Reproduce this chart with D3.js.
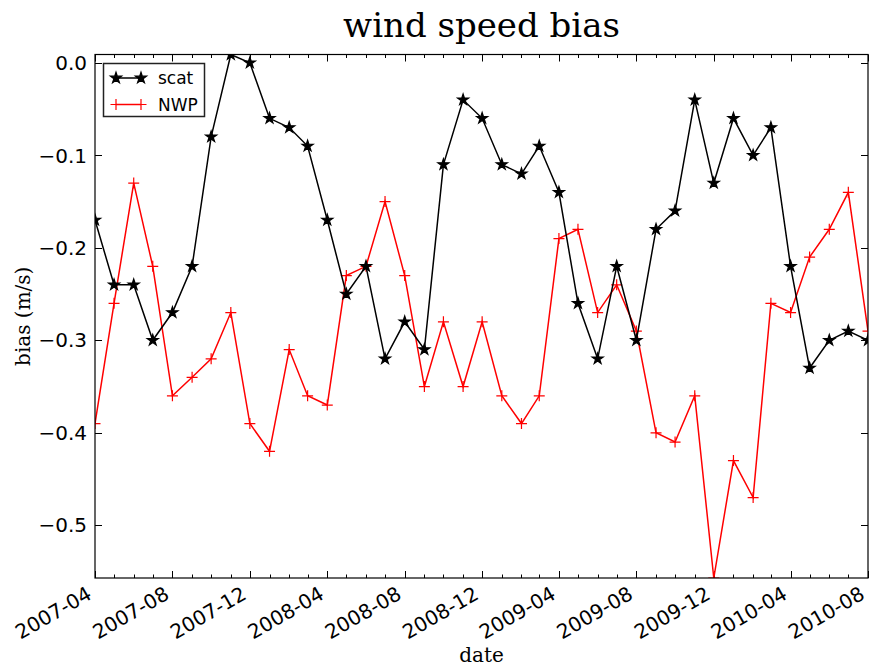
<!DOCTYPE html>
<html>
<head>
<meta charset="utf-8">
<script src="https://cdn.jsdelivr.net/npm/d3@7/dist/d3.min.js"></script>
<style>
  html, body { margin: 0; padding: 0; background: #fff; }
  svg { display: block; }
</style>
</head>
<body>
<svg id="chart" width="869" height="671"></svg>
<script>
// Monthly wind speed bias, April 2007 – August 2010
const startMonth = "2007-04";
const monthCount = 41;
const scatBias = [
  -0.17, -0.24, -0.24, -0.30, -0.27, -0.22, -0.08, 0.009, 0.00, -0.06,
  -0.07, -0.09, -0.17, -0.25, -0.22, -0.32, -0.28, -0.31, -0.11, -0.04,
  -0.06, -0.11, -0.12, -0.09, -0.14, -0.26, -0.32, -0.22, -0.30, -0.18,
  -0.16, -0.04, -0.13, -0.06, -0.10, -0.07, -0.22, -0.33, -0.30, -0.29,
  -0.30
];
const nwpBias = [
  -0.39, -0.26, -0.13, -0.22, -0.36, -0.34, -0.32, -0.27, -0.39, -0.42,
  -0.31, -0.36, -0.37, -0.23, -0.22, -0.15, -0.23, -0.35, -0.28, -0.35,
  -0.28, -0.36, -0.39, -0.36, -0.19, -0.18, -0.27, -0.24, -0.29, -0.40,
  -0.41, -0.36, -0.557, -0.43, -0.47, -0.26, -0.27, -0.21, -0.18, -0.14,
  -0.29
];
const yTicks = [0.0, -0.1, -0.2, -0.3, -0.4, -0.5];
const xTickEvery = 4; // a labelled tick every fourth month
const seriesNames = ["scat", "NWP"];
const seriesColors = ["#000000", "#ff0000"];

const parseMonth = d3.timeParse("%Y-%m");
const months = d3.timeMonth.range(parseMonth(startMonth),
  d3.timeMonth.offset(parseMonth(startMonth), monthCount));
const majorMonths = months.filter((d, i) => i % xTickEvery === 0);

const svg = d3.select("#chart");
const m = { left: 95, right: 868, top: 54.5, bottom: 578 };

const x = d3.scaleTime()
  .domain(d3.extent(months))
  .range([m.left, m.right]);
const y = d3.scaleLinear()
  .domain(d3.extent(scatBias.concat(nwpBias)))
  .range([m.bottom, m.top]);

const sansFont = "'DejaVu Sans', sans-serif";
const serifFont = "'DejaVu Serif', serif";

svg.append("defs").append("clipPath").attr("id", "plotClip")
  .append("rect")
  .attr("x", m.left).attr("y", m.top)
  .attr("width", m.right - m.left).attr("height", m.bottom - m.top);

// Ticks (inward, on all four sides)
const majorSet = new Set(majorMonths.map(d => +d));
const tickG = svg.append("g").attr("stroke", "#000").attr("stroke-width", 1);
months.forEach(d => {
  const len = majorSet.has(+d) ? 7 : 3.5;
  const px = Math.round(x(d)) + 0.5;
  tickG.append("line").attr("x1", px).attr("x2", px).attr("y1", m.bottom).attr("y2", m.bottom - len);
  tickG.append("line").attr("x1", px).attr("x2", px).attr("y1", m.top).attr("y2", m.top + len);
});
yTicks.forEach(v => {
  const py = Math.round(y(v)) + 0.5;
  tickG.append("line").attr("x1", m.left).attr("x2", m.left + 7).attr("y1", py).attr("y2", py);
  tickG.append("line").attr("x1", m.right).attr("x2", m.right - 7).attr("y1", py).attr("y2", py);
});

// Y tick labels
const yFmt = d3.format(".1f");
svg.append("g").selectAll("text").data(yTicks).join("text")
  .attr("x", m.left - 8)
  .attr("y", d => y(d))
  .attr("dy", "0.36em")
  .attr("text-anchor", "end")
  .attr("font-family", sansFont)
  .attr("font-size", 20)
  .attr("fill", "#000")
  .text(d => yFmt(d).replace("-", "\u2212"));

// X tick labels, rotated
const xFmt = d3.timeFormat("%Y-%m");
svg.append("g").selectAll("text").data(majorMonths).join("text")
  .attr("transform", d => `translate(${x(d) - 2},${m.bottom + 20}) rotate(-30)`)
  .attr("text-anchor", "end")
  .attr("font-family", sansFont)
  .attr("font-size", 20)
  .attr("fill", "#000")
  .text(d => xFmt(d));

// Series
const line = d3.line().x((d, i) => x(months[i])).y(d => y(d));
const star = d3.symbol(d3.symbolStar).size(38)();
const plus = "M-5.5,0H5.5M0,-5.5V5.5";
const plot = svg.append("g").attr("clip-path", "url(#plotClip)");

function drawSeries(values, color, markerPath, filled) {
  plot.append("path")
    .datum(values)
    .attr("fill", "none")
    .attr("stroke", color)
    .attr("stroke-width", 1.5)
    .attr("d", line);
  plot.append("g").selectAll("path").data(values).join("path")
    .attr("transform", (d, i) => `translate(${x(months[i])},${y(d)})`)
    .attr("d", markerPath)
    .attr("fill", filled ? color : "none")
    .attr("stroke", color)
    .attr("stroke-width", 1.2);
}
drawSeries(nwpBias, seriesColors[1], plus, false);
drawSeries(scatBias, seriesColors[0], star, true);

// Frame
svg.append("rect")
  .attr("x", m.left).attr("y", m.top)
  .attr("width", m.right - m.left).attr("height", m.bottom - m.top)
  .attr("fill", "none").attr("stroke", "#000").attr("stroke-width", 1.2);

// Legend
const lg = svg.append("g");
lg.append("rect")
  .attr("x", 103.5).attr("y", 63.5).attr("width", 101).attr("height", 53)
  .attr("fill", "#fff").attr("stroke", "#222").attr("stroke-width", 1.5);
const legendRows = [
  { name: seriesNames[0], color: seriesColors[0], marker: star, filled: true, yPos: 78 },
  { name: seriesNames[1], color: seriesColors[1], marker: plus, filled: false, yPos: 104.5 }
];
legendRows.forEach(r => {
  lg.append("line").attr("x1", 116).attr("x2", 141).attr("y1", r.yPos).attr("y2", r.yPos)
    .attr("stroke", r.color).attr("stroke-width", 1.5);
  [116, 141].forEach(px => {
    lg.append("path").attr("transform", `translate(${px},${r.yPos})`)
      .attr("d", r.marker)
      .attr("fill", r.filled ? r.color : "none")
      .attr("stroke", r.color).attr("stroke-width", 1.2);
  });
  lg.append("text").attr("x", 158).attr("y", r.yPos).attr("dy", "0.36em")
    .attr("font-family", sansFont).attr("font-size", 17).attr("fill", "#000")
    .text(r.name);
});

// Titles
svg.append("text")
  .attr("x", (m.left + m.right) / 2).attr("y", 37)
  .attr("text-anchor", "middle")
  .attr("font-family", serifFont).attr("font-size", 34).attr("fill", "#000")
  .text("wind speed bias");
svg.append("text")
  .attr("x", (m.left + m.right) / 2).attr("y", 662)
  .attr("text-anchor", "middle")
  .attr("font-family", serifFont).attr("font-size", 20).attr("fill", "#000")
  .text("date");
svg.append("text")
  .attr("transform", `translate(30,${(m.top + m.bottom) / 2}) rotate(-90)`)
  .attr("text-anchor", "middle")
  .attr("font-family", serifFont).attr("font-size", 20).attr("fill", "#000")
  .text("bias (m/s)");
</script>
</body>
</html>
